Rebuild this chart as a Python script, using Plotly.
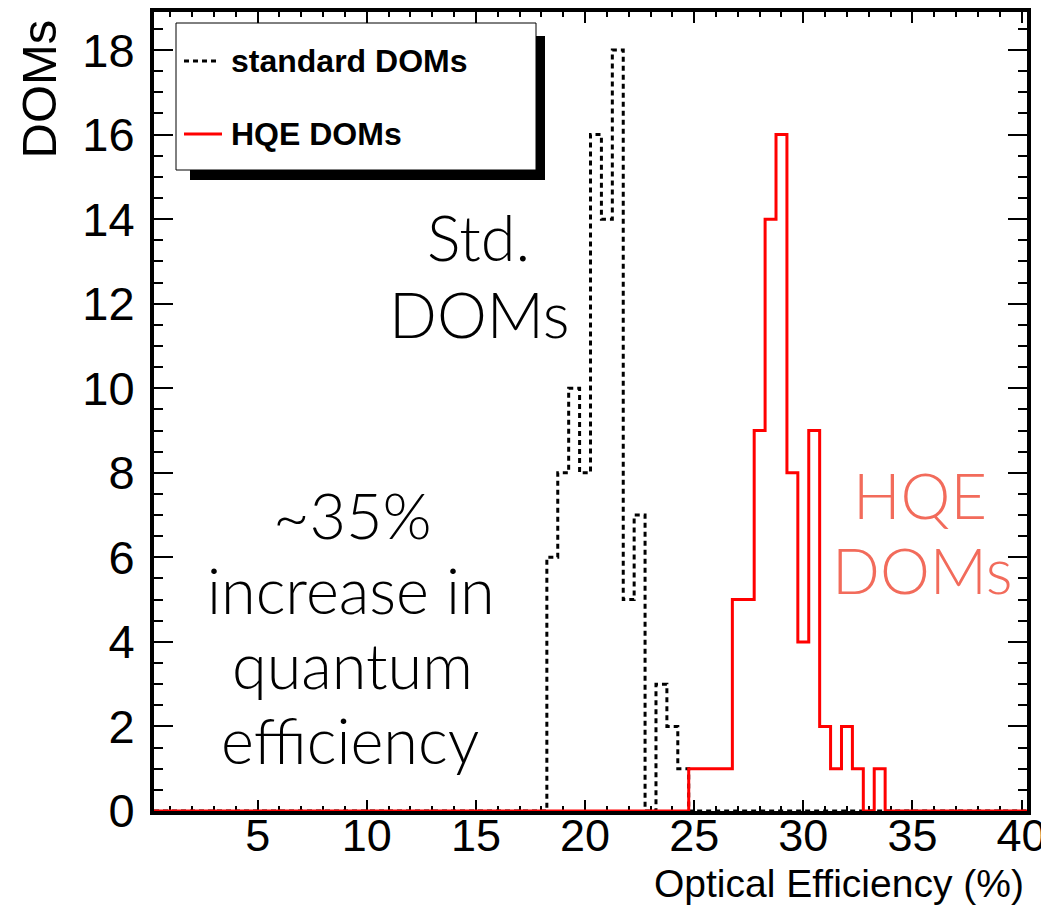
import numpy as np
import plotly.graph_objects as go

# ---------------- data ----------------
x_low = 0.25          # histogram lower edge
bin_width = 0.5
n_bins = 80

std_first_edge = 18.25
std_counts = [6, 8, 10, 8, 16, 14, 18, 5, 7, 0, 3, 2, 1]

hqe_first_edge = 24.75
hqe_counts = [1, 1, 1, 1, 5, 5, 9, 14, 16, 8, 4, 9, 2, 1, 2, 1, 0, 1]

x_tick_vals = [5, 10, 15, 20, 25, 30, 35, 40]
y_tick_vals = [0, 2, 4, 6, 8, 10, 12, 14, 16, 18]


def full_hist(first_edge, counts):
    h = np.zeros(n_bins)
    i0 = int(round((first_edge - x_low) / bin_width))
    h[i0:i0 + len(counts)] = counts
    return h


edges = x_low + bin_width * np.arange(n_bins + 1)
std_full = full_hist(std_first_edge, std_counts)
hqe_full = full_hist(hqe_first_edge, hqe_counts)

# ---------------- layout geometry (screen pixels) ----------------
SW, SH = 1049, 905          # browser window
OFF = 8                     # default body margin of the html page
X0, X1, Y0, Y1 = 154, 1027, 12, 811   # plot frame on screen
W, H = SW - OFF, SH - OFF
L, R, T, B = X0 - OFF, SW - X1, Y0 - OFF, SH - Y1
PW, PH = X1 - X0, Y1 - Y0


def px(xp):
    return (xp - X0) / PW


def py(yp):
    return (Y1 - yp) / PH


fig = go.Figure()
fig.add_trace(go.Scatter(
    x=edges, y=np.append(std_full, std_full[-1]), mode="lines",
    line=dict(shape="hv", color="black", width=3, dash="5px,4px"),
    name="standard DOMs", showlegend=False, hoverinfo="skip"))
fig.add_trace(go.Scatter(
    x=edges, y=np.append(hqe_full, hqe_full[-1]), mode="lines",
    line=dict(shape="hv", color="#ff0000", width=3),
    name="HQE DOMs", showlegend=False, hoverinfo="skip"))

xtickfont = dict(family="Arial, Liberation Sans, sans-serif", size=45, color="black")
ytickfont = dict(family="Arial, Liberation Sans, sans-serif", size=47, color="black")

fig.update_layout(
    width=W, height=H,
    margin=dict(l=L, r=R, t=T, b=B, pad=0, autoexpand=False),
    paper_bgcolor="white", plot_bgcolor="white",
    xaxis=dict(
        range=[x_low, x_low + n_bins * bin_width],
        tickmode="array", tickvals=x_tick_vals,
        ticks="inside", ticklen=11, tickwidth=1.5, tickcolor="black",
        minor=dict(dtick=1, tick0=0, ticks="inside", ticklen=5, tickwidth=1.5, tickcolor="black"),
        showline=True, linewidth=4, linecolor="black", mirror="allticks",
        showgrid=False, zeroline=False, layer="below traces",
        tickfont=xtickfont, ticklabelstandoff=-18,
    ),
    yaxis=dict(
        range=[0, 18.9],
        tickmode="array", tickvals=y_tick_vals,
        ticks="inside", ticklen=19, tickwidth=1.5, tickcolor="black",
        minor=dict(dtick=0.5, tick0=0, ticks="inside", ticklen=9, tickwidth=1.5, tickcolor="black"),
        showline=True, linewidth=4, linecolor="black", mirror="allticks",
        showgrid=False, zeroline=False, layer="below traces",
        tickfont=ytickfont, ticklabelstandoff=6,
    ),
    showlegend=False,
)

shapes = []
annotations = []

# legend box with shadow
shapes.append(dict(type="rect", xref="paper", yref="paper",
                   x0=px(190), x1=px(545), y0=py(180), y1=py(36),
                   fillcolor="black", line=dict(width=0), layer="above"))
shapes.append(dict(type="rect", xref="paper", yref="paper",
                   x0=px(176), x1=px(536), y0=py(170), y1=py(23),
                   fillcolor="white", line=dict(color="black", width=1), layer="above"))
shapes.append(dict(type="line", xref="paper", yref="paper",
                   x0=px(184), x1=px(218), y0=py(61), y1=py(61),
                   line=dict(color="black", width=3, dash="5px,4px"), layer="above"))
shapes.append(dict(type="line", xref="paper", yref="paper",
                   x0=px(184), x1=px(222), y0=py(134), y1=py(134),
                   line=dict(color="#ff0000", width=3), layer="above"))

legfont = dict(family="Arial, Liberation Sans, sans-serif", size=32, color="black", weight="bold")
annotations.append(dict(text="standard DOMs", xref="paper", yref="paper", x=px(229), y=py(61),
                        xanchor="left", yanchor="middle", showarrow=False, font=legfont))
annotations.append(dict(text="HQE DOMs", xref="paper", yref="paper", x=px(229), y=py(134),
                        xanchor="left", yanchor="middle", showarrow=False, font=legfont))

# axis titles
annotations.append(dict(text="DOMs", xref="paper", yref="paper", x=px(39), y=py(18),
                        xanchor="center", yanchor="top", textangle=-90, showarrow=False,
                        font=dict(family="Arial, Liberation Sans, sans-serif", size=49, color="black")))
annotations.append(dict(text="Optical Efficiency (%)", xref="paper", yref="paper", x=px(1026), y=py(883),
                        xanchor="right", yanchor="middle", showarrow=False,
                        font=dict(family="Arial, Liberation Sans, sans-serif", size=39, color="black")))

# big light annotations
light = dict(family="Lato, Roboto, sans-serif", size=63, color="black", weight=300)
for txt, xc, yc in [("Std.", 478, 236), ("DOMs", 479, 313),
                    ("~35%", 352, 514), ("increase in", 351, 589),
                    ("quantum", 352, 664), ("efficiency", 350, 739)]:
    annotations.append(dict(text=txt, xref="paper", yref="paper", x=px(xc), y=py(yc),
                            xanchor="center", yanchor="middle", showarrow=False, font=light))
light_red = dict(light, color="#f26b5b")
for txt, xc, yc in [("HQE", 920, 494), ("DOMs", 922, 569)]:
    annotations.append(dict(text=txt, xref="paper", yref="paper", x=px(xc), y=py(yc),
                            xanchor="center", yanchor="middle", showarrow=False, font=light_red))

fig.update_layout(shapes=shapes, annotations=annotations)
fig.write_html("out.html")
